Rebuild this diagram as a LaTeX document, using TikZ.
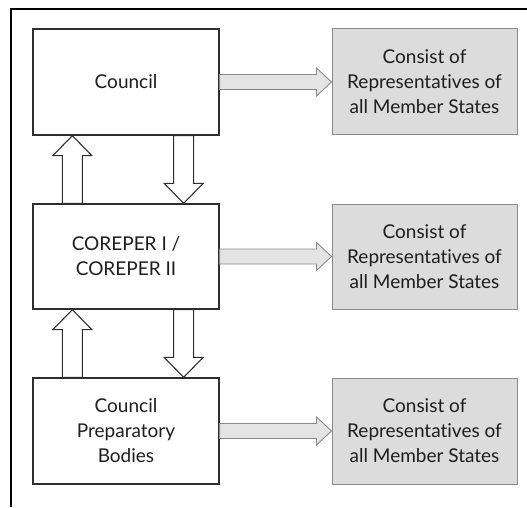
\documentclass[tikz,border=0pt]{standalone}
\usepackage{fontspec}
\setmainfont{Lato}[Ligatures=NoCommon]
\usetikzlibrary{calc}

\definecolor{boxline}{HTML}{2E2E2E}
\definecolor{greyfill}{HTML}{DCDCDC}
\definecolor{greyline}{HTML}{8A8A8A}
\definecolor{arrowfill}{HTML}{E4E4E4}
\definecolor{ink}{HTML}{1E1E1E}

\tikzset{
  body/.style={draw=boxline, line width=1.3pt, fill=white, minimum width=186pt,
    minimum height=106pt, align=center, inner sep=0pt, text=ink,
    font=\fontsize{19}{25}\selectfont},
  member/.style={draw=greyline, line width=1pt, fill=greyfill, minimum width=185pt,
    minimum height=106pt, align=center, inner sep=0pt, text=ink,
    font=\fontsize{19}{25}\selectfont},
  sidearrow/.style={draw=greyline, line width=0.9pt, fill=arrowfill, line join=miter},
  flowarrow/.style={draw=boxline, line width=1.1pt, fill=white, line join=miter},
  frame/.style={draw=black, line width=1.6pt}
}

% horizontal block arrow from the east side of #1 to the west side of #2
\newcommand\rightblock[2]{%
  \draw[sidearrow] ($(#1.east)+(0,7.5)$) -- ($(#2.west)+(-15,7.5)$)
    -- ($(#2.west)+(-15,14)$) -- (#2.west) -- ($(#2.west)+(-15,-14)$)
    -- ($(#2.west)+(-15,-7.5)$) -- ($(#1.east)+(0,-7.5)$) -- cycle;}
% vertical block arrow between two anchors, head at the second one
\newcommand\upblock[2]{%
  \draw[flowarrow] ($(#1)+(-10,0)$) -- ($(#2)+(-10,-20)$) -- ($(#2)+(-19.5,-20)$)
    -- (#2) -- ($(#2)+(19.5,-20)$) -- ($(#2)+(10,-20)$) -- ($(#1)+(10,0)$) -- cycle;}
\newcommand\downblock[2]{%
  \draw[flowarrow] ($(#1)+(-10,0)$) -- ($(#2)+(-10,20)$) -- ($(#2)+(-19.5,20)$)
    -- (#2) -- ($(#2)+(19.5,20)$) -- ($(#2)+(10,20)$) -- ($(#1)+(10,0)$) -- cycle;}

\begin{document}
\begin{tikzpicture}[x=1pt,y=1pt]
\useasboundingbox (0,0) rectangle (527,507);

% outer frame, open towards the right and bottom edges
\draw[frame] (11,0) -- (11,498) -- (527,498);

% main bodies
\node[body] (council) at (126,425) {Council};
\node[body, minimum height=105pt] (coreper) at (126,250.5) {COREPER I /\\COREPER II};
\node[body] (prep) at (126,76) {Council\\Preparatory\\Bodies};

% composition boxes
\node[member] (m1) at (424.5,425) {Consist of\\Representatives of\\all Member States};
\node[member, minimum height=105pt] (m2) at (424.5,250.5) {Consist of\\Representatives of\\all Member States};
\node[member] (m3) at (424.5,76) {Consist of\\Representatives of\\all Member States};

% composition arrows
\rightblock{council}{m1}
\rightblock{coreper}{m2}
\rightblock{prep}{m3}

% anchor points for the vertical flows
\coordinate (cu) at ($(council.south west)+(40,0)$);
\coordinate (cd) at ($(council.south east)+(-36,0)$);
\coordinate (ku) at ($(coreper.north west)+(40,0)$);
\coordinate (kd) at ($(coreper.north east)+(-36,0)$);
\coordinate (ks) at ($(coreper.south west)+(40,0)$);
\coordinate (kt) at ($(coreper.south east)+(-36,0)$);
\coordinate (pu) at ($(prep.north west)+(40,0)$);
\coordinate (pd) at ($(prep.north east)+(-36,0)$);

\upblock{ku}{cu}
\downblock{cd}{kd}
\upblock{pu}{ks}
\downblock{kt}{pd}
\end{tikzpicture}
\end{document}
